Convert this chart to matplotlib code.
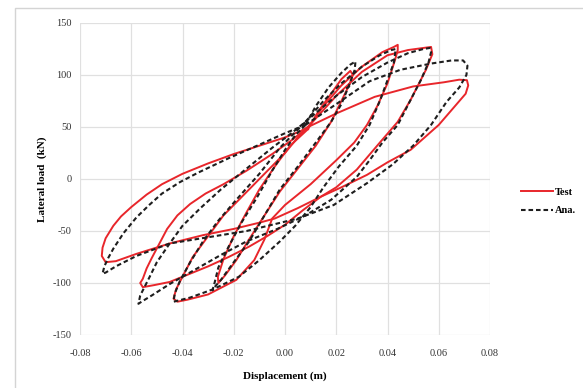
#!/usr/bin/env python3
"""Hysteresis loops: test vs analysis, lateral load against displacement."""

import matplotlib

matplotlib.use("Agg")
import matplotlib.pyplot as plt
from matplotlib.patches import Rectangle

RED = "#e8262b"
BLACK = "#1e1e1e"

# Test loops, each a closed path (displacement m, load kN)
test_x_a = [0.009, 0.020, 0.035, 0.050, 0.062, 0.068, 0.0710, 0.0715, 0.0705, 0.067, 0.060, 0.049,
            0.040, 0.032, 0.022, 0.014, 0.005, -0.004, -0.010, -0.020, -0.032, -0.045,
            -0.058, -0.066, -0.0700, -0.0715, -0.0712, -0.0700, -0.067, -0.064, -0.060,
            -0.054, -0.048, -0.040, -0.030, -0.020, -0.010, 0.000, 0.006, 0.009]
test_y_a = [50, 63, 79, 89, 93, 95.5, 95, 90, 82, 72, 52, 28,
            16, 4, -8, -17, -28, -38, -42, -48, -54, -62,
            -72, -79, -80, -74, -66, -57, -45, -36, -27,
            -15, -5, 5, 15, 24, 32, 40, 46, 50]

test_x_b = [0.009, 0.020, 0.030, 0.040, 0.048, 0.054, 0.0570, 0.0575, 0.055, 0.049, 0.044,
            0.037, 0.028, 0.020, 0.014, 0.007, 0.000, -0.007, -0.014, -0.022, -0.030,
            -0.038, -0.045, -0.051, -0.0555, -0.0565, -0.0555, -0.054, -0.052, -0.049,
            -0.046, -0.042, -0.037, -0.031, -0.024, -0.015, -0.005, 0.003, 0.009]
test_y_b = [50, 80, 103, 119, 124, 126, 127, 120, 105, 76, 55,
            35, 9, -8, -17, -30, -44, -55, -65, -75, -84,
            -92, -99, -102, -104, -100, -96, -86, -76, -62,
            -48, -35, -24, -14, -5, 8, 24, 38, 50]

test_x_c = [0.009, 0.015, 0.022, 0.030, 0.038, 0.0425, 0.0440, 0.0440, 0.043, 0.040, 0.036,
            0.032, 0.027, 0.020, 0.010, 0.000, -0.005, -0.008, -0.012, -0.019, -0.030,
            -0.038, -0.0420, -0.0435, -0.0425, -0.040, -0.036, -0.030, -0.024, -0.016,
            -0.008, 0.000, 0.005, 0.009]
test_y_c = [50, 70, 90, 108, 122, 127, 129, 124, 115, 92, 70,
            52, 35, 18, -5, -25, -38, -58, -78, -97, -111,
            -116, -118, -115, -106, -94, -75, -55, -35, -15,
            5, 25, 40, 50]

test_x_d = [0.009, 0.013, 0.018, 0.022, 0.0255, 0.0265, 0.025, 0.022, 0.018, 0.012, 0.005,
            -0.002, -0.008, -0.014, -0.019, -0.0235, -0.0260, -0.0262, -0.024,
            -0.020, -0.015, -0.010, -0.004, 0.002, 0.009]
test_y_d = [48, 65, 82, 96, 104, 100, 90, 75, 55, 32, 10,
            -12, -35, -58, -78, -93, -100, -94, -77,
            -55, -32, -10, 12, 32, 48]

# Analysis loops
ana_x_a = [0.008, 0.020, 0.033, 0.045, 0.057, 0.065, 0.0695, 0.0712, 0.0708, 0.068, 0.063,
           0.057, 0.050, 0.042, 0.032, 0.019, 0.005, -0.005, -0.015, -0.030, -0.045,
           -0.058, -0.066, -0.0700, -0.0712, -0.0705, -0.069, -0.067, -0.063, -0.058,
           -0.053, -0.048, -0.041, -0.034, -0.022, -0.010, 0.000, 0.008]
ana_y_a = [52, 72, 94, 105, 111, 114, 114, 109, 100, 88, 74,
           52, 32, 14, -4, -25, -38, -44, -50, -56, -62,
           -74, -84, -90, -91, -84, -76, -67, -52, -37,
           -25, -14, -3, 6, 20, 33, 44, 52]

ana_x_b = [0.008, 0.020, 0.030, 0.040, 0.048, 0.054, 0.0565, 0.0570, 0.0560, 0.053, 0.049,
           0.044, 0.038, 0.033, 0.028, 0.018, 0.008, -0.003, -0.015, -0.025, -0.035,
           -0.045, -0.052, -0.0560, -0.0572, -0.0565, -0.053, -0.050, -0.045, -0.040,
           -0.033, -0.025, -0.015, -0.005, 0.003, 0.008]
ana_y_b = [55, 80, 98, 112, 121, 125, 126, 122, 112, 95, 76,
           52, 35, 18, 2, -20, -35, -48, -60, -73, -87,
           -101, -112, -118, -120, -112, -95, -80, -62, -45,
           -28, -10, 10, 30, 45, 55]

ana_x_c = [0.008, 0.015, 0.022, 0.030, 0.037, 0.0415, 0.0432, 0.0425, 0.040, 0.037, 0.033,
           0.028, 0.021, 0.015, 0.010, 0.004, -0.002, -0.010, -0.018, -0.028, -0.037,
           -0.0435, -0.0430, -0.041, -0.037, -0.032, -0.026, -0.019, -0.010, -0.002,
           0.004, 0.008]
ana_y_c = [55, 75, 92, 108, 119, 124, 125, 112, 95, 75, 52,
           32, 12, -8, -27, -45, -60, -78, -94, -106, -114,
           -118, -110, -98, -80, -60, -40, -20, 5, 30,
           45, 55]

ana_x_d = [0.008, 0.012, 0.017, 0.022, 0.0255, 0.0275, 0.0272, 0.025, 0.022, 0.018, 0.012,
           0.005, -0.002, -0.008, -0.014, -0.020, -0.025, -0.0275, -0.0283, -0.0275,
           -0.026, -0.022, -0.017, -0.011, -0.005, 0.000, 0.004, 0.008]
ana_y_d = [52, 70, 88, 102, 110, 113, 105, 90, 72, 55, 35,
           12, -10, -35, -60, -80, -97, -104, -107, -100,
           -85, -65, -42, -18, 8, 28, 42, 52]

x_ticks = [-0.08, -0.06, -0.04, -0.02, 0.00, 0.02, 0.04, 0.06, 0.08]
y_ticks = [-150, -100, -50, 0, 50, 100, 150]

SERIF = ["Liberation Serif", "DejaVu Serif"]

fig = plt.figure(figsize=(5.83, 3.88), dpi=100)
fig.patches.append(
    Rectangle((15 / 583, -0.05), 1.2, 1 - 8 / 388 + 0.05, transform=fig.transFigure,
              fill=False, edgecolor="#d4d4d4", linewidth=1.0)
)
ax = fig.add_axes([80 / 583, 53 / 388, 410 / 583, 312 / 388])

test_loops = [(test_x_a, test_y_a), (test_x_b, test_y_b), (test_x_c, test_y_c), (test_x_d, test_y_d)]
ana_loops = [(ana_x_a, ana_y_a), (ana_x_b, ana_y_b), (ana_x_c, ana_y_c), (ana_x_d, ana_y_d)]

for i, (xs, ys) in enumerate(test_loops):
    ax.plot(xs, ys, color=RED, linewidth=1.4, solid_joinstyle="round",
            label="Test" if i == 0 else None, zorder=3)
for i, (xs, ys) in enumerate(ana_loops):
    ax.plot(xs, ys, color=BLACK, linewidth=1.5, linestyle=(0, (2.2, 1.4)),
            label="Ana." if i == 0 else None, zorder=4)

ax.set_xlim(-0.08, 0.08)
ax.set_ylim(-150, 150)
ax.set_xticks(x_ticks)
ax.set_yticks(y_ticks)
ax.set_xticklabels([f"{v:.2f}" for v in x_ticks], fontfamily=SERIF, fontsize=7.5, color="#333333")
ax.set_yticklabels([str(v) for v in y_ticks], fontfamily=SERIF, fontsize=7.5, color="#333333")
ax.tick_params(axis="y", length=0, pad=6)
ax.tick_params(axis="x", length=0, pad=10)
ax.grid(True, color="#e0e0e0", linewidth=0.9)
ax.set_axisbelow(True)
for side in ax.spines.values():
    side.set_visible(False)

ax.set_xlabel("Displacement (m)", fontfamily=SERIF, fontsize=8, fontweight="bold", labelpad=10)
ax.set_ylabel("Lateral load  (kN)", fontfamily=SERIF, fontsize=8, fontweight="bold", labelpad=4)

fig.legend(loc="upper left", bbox_to_anchor=(512 / 583, 1 - 178 / 388), frameon=False,
           prop={"family": SERIF, "size": 7.5, "weight": "bold"},
           handlelength=3.0, handletextpad=0.2, labelspacing=0.9)

fig.savefig("out.png", dpi=100)
